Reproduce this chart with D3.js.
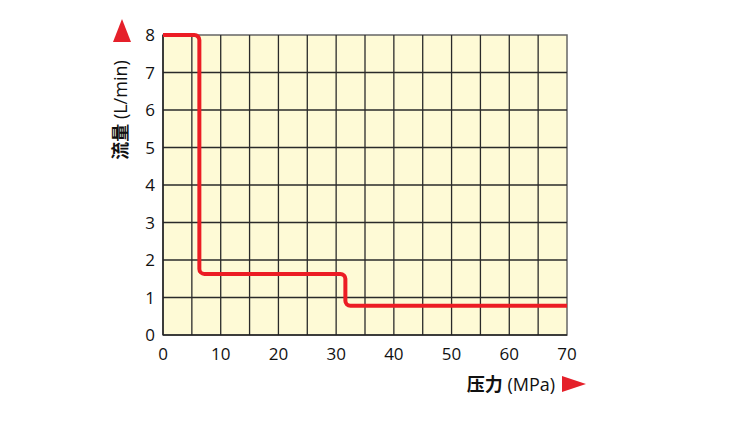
<!DOCTYPE html>
<html>
<head>
<meta charset="utf-8">
<script src="https://cdn.jsdelivr.net/npm/d3@7"></script>
<style>
  body { margin: 0; background: #fff; }
  text { font-family: "Open Sans", "Noto Sans", sans-serif; fill: #111; }
</style>
</head>
<body>
<div id="chart"></div>
<script>
// Data
var pressure = [0, 6.3, 6.3, 31.6, 31.6, 70];      // MPa
var flow     = [8, 8, 1.63, 1.63, 0.78, 0.78];      // L/min
var xTicks = [0, 10, 20, 30, 40, 50, 60, 70];
var yTicks = [0, 1, 2, 3, 4, 5, 6, 7, 8];
var xLabelCn = "压力", xLabelUnit = " (MPa)";
var yLabelCn = "流量", yLabelUnit = " (L/min)";

var width = 745, height = 423;
var margin = {top: 35, right: 178, bottom: 88, left: 163};

var svg = d3.select("#chart").append("svg")
    .attr("width", width)
    .attr("height", height);

var x = d3.scaleLinear().domain([0, 70]).range([margin.left, width - margin.right]);
var y = d3.scaleLinear().domain([0, 8]).range([height - margin.bottom, margin.top]);

// plot background
svg.append("rect")
    .attr("x", x(0)).attr("y", y(8))
    .attr("width", x(70) - x(0)).attr("height", y(0) - y(8))
    .attr("fill", "#fefad6")
    .attr("stroke", "#666").attr("stroke-width", 1.5);

// grid: vertical every 5 MPa, horizontal every 1 L/min
var grid = svg.append("g").attr("stroke", "#2a2a2a").attr("stroke-width", 1.3);
grid.selectAll(".v").data(d3.range(5, 70, 5)).enter().append("line")
    .attr("x1", function (d) { return x(d); }).attr("x2", function (d) { return x(d); })
    .attr("y1", y(0)).attr("y2", y(8));
grid.selectAll(".h").data(d3.range(1, 8)).enter().append("line")
    .attr("x1", x(0)).attr("x2", x(70))
    .attr("y1", function (d) { return y(d); }).attr("y2", function (d) { return y(d); });

// axis lines left and bottom
svg.append("line").attr("x1", x(0)).attr("x2", x(0)).attr("y1", y(0)).attr("y2", y(8))
    .attr("stroke", "#222").attr("stroke-width", 1.5);
svg.append("line").attr("x1", x(0)).attr("x2", x(70)).attr("y1", y(0)).attr("y2", y(0))
    .attr("stroke", "#222").attr("stroke-width", 1.5);

// tick labels
svg.selectAll(".xt").data(xTicks).enter().append("text")
    .attr("x", function (d) { return x(d); })
    .attr("y", y(0) + 25)
    .attr("text-anchor", "middle")
    .style("font-size", "17px")
    .text(function (d) { return d; });

svg.selectAll(".yt").data(yTicks).enter().append("text")
    .attr("x", x(0) - 8)
    .attr("y", function (d) { return y(d) + 6; })
    .attr("text-anchor", "end")
    .style("font-size", "17px")
    .text(function (d) { return d; });

// red curve with rounded corners
var pts = pressure.map(function (p, i) { return [x(p), y(flow[i])]; });
var path = d3.path();
path.moveTo(pts[0][0], pts[0][1]);
for (var i = 1; i < pts.length - 1; i++) {
    path.arcTo(pts[i][0], pts[i][1], pts[i + 1][0], pts[i + 1][1], 5);
}
path.lineTo(pts[pts.length - 1][0], pts[pts.length - 1][1]);

svg.append("path")
    .attr("d", path.toString())
    .attr("fill", "none")
    .attr("stroke", "#ec1c24")
    .attr("stroke-width", 4);

// y axis title (rotated)
var yt = svg.append("text")
    .attr("transform", "translate(127,110) rotate(-90)")
    .attr("text-anchor", "middle")
    .style("font-size", "18px");
yt.append("tspan").style("font-weight", "bold")
    .style("font-family", "'Noto Sans CJK SC', sans-serif").text(yLabelCn);
yt.append("tspan").text(yLabelUnit);

// y arrow
svg.append("path")
    .attr("d", "M122,19L131,42L113,42Z")
    .attr("fill", "#e5202a");

// x axis title
var xt = svg.append("text")
    .attr("x", 511).attr("y", 391)
    .attr("text-anchor", "middle")
    .style("font-size", "18px");
xt.append("tspan").style("font-weight", "bold")
    .style("font-family", "'Noto Sans CJK SC', sans-serif").text(xLabelCn);
xt.append("tspan").text(xLabelUnit);

// x arrow
svg.append("path")
    .attr("d", "M562,376L586,384L562,392Z")
    .attr("fill", "#e5202a");
</script>
</body>
</html>
